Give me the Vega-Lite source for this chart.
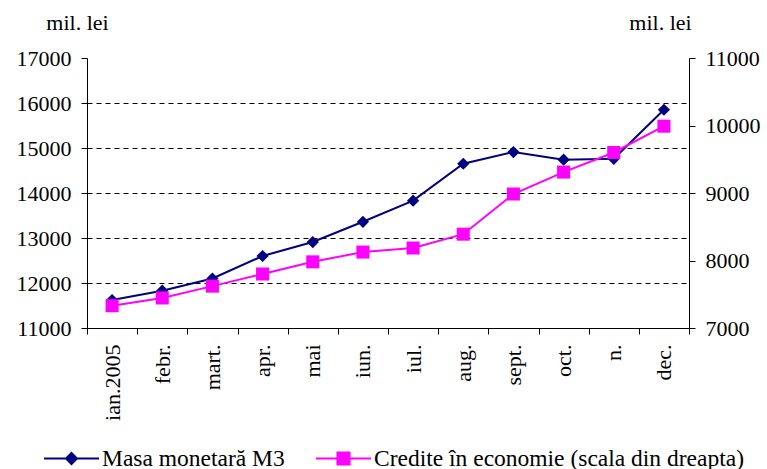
{
  "$schema": "https://vega.github.io/schema/vega-lite/v6.json",
  "width": 602,
  "height": 270,
  "autosize": "none",
  "padding": {"left": 87, "top": 58, "right": 78, "bottom": 141},
  "config": {
    "view": {"stroke": null},
    "font": "Liberation Serif",
    "axis": {
      "labelFont": "Liberation Serif",
      "titleFont": "Liberation Serif",
      "labelColor": "black",
      "titleColor": "black",
      "domainColor": "black",
      "tickColor": "black",
      "labelFontSize": 22,
      "titleFontSize": 22,
      "titleFontWeight": "normal"
    },
    "legend": {
      "labelFont": "Liberation Serif",
      "labelFontSize": 23.5,
      "labelColor": "black",
      "labelLimit": 0
    }
  },
  "data": {
    "values": [
      {"month": "ian.2005", "m3": 11620, "cred": 7330},
      {"month": "febr.", "m3": 11830, "cred": 7445},
      {"month": "mart.", "m3": 12100, "cred": 7620},
      {"month": "apr.", "m3": 12600, "cred": 7800},
      {"month": "mai", "m3": 12910, "cred": 7980},
      {"month": "iun.", "m3": 13360, "cred": 8125},
      {"month": "iul.", "m3": 13830, "cred": 8185},
      {"month": "aug.", "m3": 14650, "cred": 8390},
      {"month": "sept.", "m3": 14910, "cred": 8985},
      {"month": "oct.", "m3": 14740, "cred": 9310},
      {"month": "n.", "m3": 14760, "cred": 9600},
      {"month": "dec.", "m3": 15850, "cred": 9990}
    ]
  },
  "encoding": {
    "x": {
      "field": "month",
      "type": "ordinal",
      "sort": null,
      "scale": {"type": "band", "paddingInner": 0, "paddingOuter": 0},
      "axis": {
        "title": null,
        "labelAngle": -90,
        "tickBand": "extent",
        "tickSize": 6,
        "labelPadding": 10,
        "domainColor": "black"
      }
    }
  },
  "layer": [
    {
      "encoding": {
        "y": {
          "field": "m3",
          "type": "quantitative",
          "scale": {"domain": [11000, 17000], "nice": false, "zero": false},
          "axis": {
            "orient": "left",
            "values": [11000, 12000, 13000, 14000, 15000, 16000, 17000],
            "format": "d",
            "tickSize": 6,
            "labelPadding": 10,
            "grid": true,
            "gridColor": "black",
            "gridDash": [5, 4],
            "gridOpacity": {"condition": {"test": "datum.value == 17000 || datum.value == 11000", "value": 0}, "value": 1},
            "title": "mil. lei",
            "titleAngle": 0,
            "titleAlign": "center",
            "titleBaseline": "alphabetic",
            "titleX": -10,
            "titleY": -29
          }
        },
        "color": {
          "datum": "Masa monetară M3",
          "type": "nominal",
          "scale": {
            "domain": ["Masa monetară M3", "Credite în economie (scala din dreapta)"],
            "range": ["#000080", "#FF00FF"]
          },
          "legend": {
            "title": null,
            "orient": "none",
            "direction": "horizontal",
            "legendX": -44,
            "legendY": 372,
            "symbolSize": 3025,
            "symbolStrokeWidth": 2,
            "labelOffset": 2,
            "columnPadding": 27,
            "labelLimit": 0,
            "encode": {
              "symbols": {
                "update": {
                  "shape": {"signal": "datum.value === 'Masa monetară M3' ? 'M-1,0H1M0,-0.2L0.2,0L0,0.2L-0.2,0Z' : 'M-1,0H1M-0.22,-0.22H0.22V0.22H-0.22Z'"},
                  "fill": {"signal": "datum.value === 'Masa monetară M3' ? '#000080' : '#FF00FF'"},
                  "stroke": {"signal": "datum.value === 'Masa monetară M3' ? '#000080' : '#FF00FF'"},
                  "opacity": {"value": 1},
                  "fillOpacity": {"value": 1}
                }
              }
            }
          }
        }
      },
      "layer": [
        {"mark": {"type": "line", "strokeWidth": 2}},
        {"mark": {"type": "point", "shape": "diamond", "filled": true, "size": 150, "opacity": 1}}
      ]
    },
    {
      "encoding": {
        "y": {
          "field": "cred",
          "type": "quantitative",
          "scale": {"domain": [7000, 11000], "nice": false, "zero": false},
          "axis": {
            "orient": "right",
            "values": [7000, 8000, 9000, 10000, 11000],
            "format": "d",
            "tickSize": 6,
            "labelPadding": 10,
            "grid": false,
            "title": "mil. lei",
            "titleAngle": 0,
            "titleAlign": "center",
            "titleBaseline": "alphabetic",
            "titleX": -29,
            "titleY": -29
          }
        },
        "color": {"datum": "Credite în economie (scala din dreapta)", "type": "nominal"}
      },
      "layer": [
        {"mark": {"type": "line", "strokeWidth": 2}},
        {"mark": {"type": "point", "shape": "square", "filled": true, "size": 170, "opacity": 1}}
      ]
    }
  ],
  "resolve": {"scale": {"y": "independent"}}
}
